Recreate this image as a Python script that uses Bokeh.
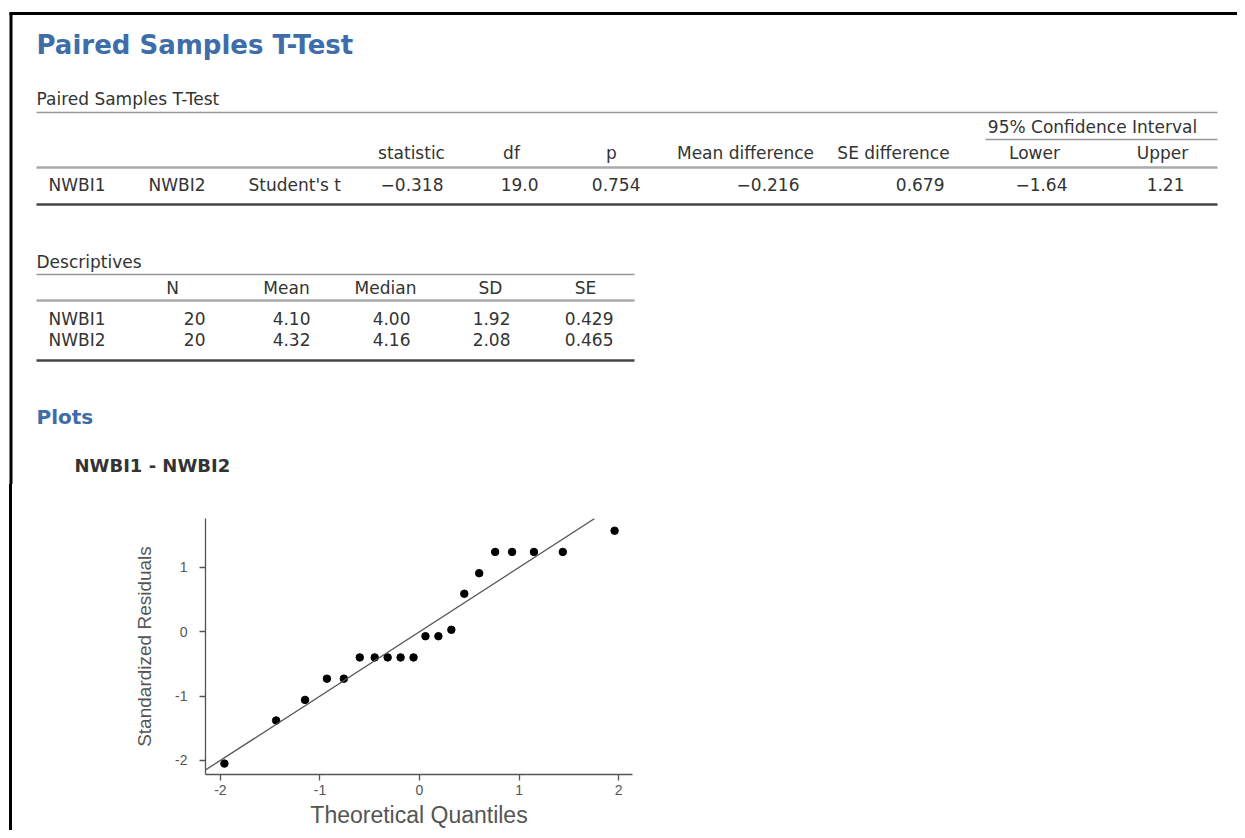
from bokeh.plotting import figure
from bokeh.models import Range1d, FixedTicker, Slope, ColumnDataSource, Div, CustomJSTickFormatter
from bokeh.layouts import column, row
from bokeh.core.properties import value
from bokeh.embed import file_html
from bokeh.resources import INLINE

# ---------------- data ----------------
page_title = "Paired Samples T-Test"
ttest_title = "Paired Samples T-Test"
ttest_headers = ["statistic", "df", "p", "Mean difference", "SE difference", "Lower", "Upper"]
ttest_ci_header = "95% Confidence Interval"
ttest_labels = ["NWBI1", "NWBI2", "Student's t"]
ttest_values = ["\u22120.318", "19.0", "0.754", "\u22120.216", "0.679", "\u22121.64", "1.21"]

desc_title = "Descriptives"
desc_headers = ["N", "Mean", "Median", "SD", "SE"]
desc_rows = ["NWBI1", "NWBI2"]
desc_n = ["20", "20"]
desc_mean = ["4.10", "4.32"]
desc_median = ["4.00", "4.16"]
desc_sd = ["1.92", "2.08"]
desc_se = ["0.429", "0.465"]

plots_title = "Plots"
qq_title = "NWBI1 - NWBI2"
theoretical_q = [-1.96, -1.44, -1.15, -0.93, -0.76, -0.60, -0.45, -0.32, -0.19, -0.06,
                 0.06, 0.19, 0.32, 0.45, 0.60, 0.76, 0.93, 1.15, 1.44, 1.96]
std_resid = [-2.05, -1.38, -1.06, -0.73, -0.73, -0.40, -0.40, -0.40, -0.40, -0.40,
             -0.07, -0.07, 0.03, 0.59, 0.91, 1.24, 1.24, 1.24, 1.24, 1.57]
qq_ticks = [-2, -1, 0, 1, 2]

# ---------------- styles / layout ----------------
FONT = "DejaVu Sans"
AXFONT = "Liberation Sans"
BLUE = "#3e6da9"
TXT = "#333333"
W = 1237
TOP_H = 484
BOT_H = 346
FS = "17px"

def blank(width, height, x0, x1, y0, y1):
    p = figure(width=width, height=height, x_range=Range1d(x0, x1), y_range=Range1d(y1, y0),
               min_border=0, toolbar_location=None, output_backend="svg",
               x_axis_location=None, y_axis_location=None)
    p.xgrid.visible = False
    p.ygrid.visible = False
    p.outline_line_color = None
    p.background_fill_color = "white"
    p.border_fill_color = "white"
    return p

def txt(p, xs, ys, texts, size=FS, align="left", color=TXT, style="normal", font=FONT):
    src = ColumnDataSource(dict(x=xs, y=ys, t=texts))
    p.text(x="x", y="y", text="t", source=src, text_font=value(font), text_font_size=size,
           text_align=align, text_baseline="middle", text_color=color, text_font_style=style)

def hline(p, x0, x1, y, color, w):
    p.segment(x0=[x0], y0=[y], x1=[x1], y1=[y], line_color=color, line_width=w)

top = blank(W, TOP_H, 0, W, 0, TOP_H)
# border
top.segment(x0=[9], y0=[13], x1=[W], y1=[13], line_color="black", line_width=3)
top.segment(x0=[10.5], y0=[12], x1=[10.5], y1=[TOP_H], line_color="black", line_width=3)

txt(top, [36], [44], [page_title], size="26px", color=BLUE, style="bold")
txt(top, [36], [98], [ttest_title])

# t-test table
hline(top, 36, 1217, 112, "#999999", 1.5)
txt(top, [1092], [126], [ttest_ci_header], align="center")
hline(top, 985, 1217, 139, "#999999", 1.5)
tt_head_x = [411, 511, 611, 745, 893, 1034, 1162]
txt(top, tt_head_x, [152] * len(ttest_headers), ttest_headers, align="center")
hline(top, 36, 1217, 167, "#aaaaaa", 2.5)
txt(top, [48, 148, 248], [184] * 3, ttest_labels)
tt_val_x = [443, 538, 640, 799, 944, 1067, 1184]
txt(top, tt_val_x, [184] * len(ttest_values), ttest_values, align="right")
hline(top, 36, 1217, 204, "#444444", 2.5)

# descriptives table
txt(top, [36], [261], [desc_title])
hline(top, 36, 634, 274, "#999999", 1.5)
txt(top, [172, 286, 385, 490, 585], [287] * 5, desc_headers, align="center")
hline(top, 36, 634, 300, "#aaaaaa", 2.5)
row_y = [318, 339]
txt(top, [48, 48], row_y, desc_rows)
for col_vals, xr in zip([desc_n, desc_mean, desc_median, desc_sd, desc_se], [205, 310, 410, 510, 613]):
    txt(top, [xr, xr], row_y, col_vals, align="right")
hline(top, 36, 634, 360, "#444444", 2.5)

txt(top, [36], [416], [plots_title], size="20px", color=BLUE, style="bold")
txt(top, [74], [465], [qq_title], size="18px", style="bold")

# bottom row
LW = 100
left = Div(text="", width=LW - 9, height=BOT_H, margin=(0, 0, 0, 9),
           styles={"border-left": "3px solid black", "box-sizing": "border-box"})

AX = "#555555"
qq = figure(width=(205 - LW) + 427 + 20, height=BOT_H, x_range=Range1d(-2.15, 2.14), y_range=Range1d(-2.22, 1.76),
            min_border_left=205 - LW, min_border_right=20, min_border_top=518 - TOP_H,
            min_border_bottom=BOT_H - (518 - TOP_H) - 256,
            toolbar_location=None, output_backend="svg",
            x_axis_label="Theoretical Quantiles", y_axis_label="Standardized Residuals")
qq.xgrid.visible = False
qq.ygrid.visible = False
qq.outline_line_color = None
for ax in (qq.xaxis[0], qq.yaxis[0]):
    ax.ticker = FixedTicker(ticks=qq_ticks)
    ax.formatter = CustomJSTickFormatter(code="return String(tick);")
    ax.minor_tick_line_color = None
    ax.major_tick_in = 0
    ax.major_tick_out = 6
    ax.major_tick_line_color = AX
    ax.major_tick_line_width = 1.3
    ax.axis_line_color = AX
    ax.axis_line_width = 1.3
    ax.major_label_text_font = AXFONT
    ax.major_label_text_font_size = "14px"
    ax.major_label_text_color = AX
    ax.axis_label_text_font = AXFONT
    ax.axis_label_text_font_style = "normal"
    ax.axis_label_text_color = AX
qq.xaxis[0].axis_label_text_font_size = "23px"
qq.yaxis[0].axis_label_text_font_size = "19px"
qq.xaxis[0].major_label_standoff = 4
qq.xaxis[0].axis_label_standoff = 4
qq.yaxis[0].major_label_standoff = 12
qq.yaxis[0].axis_label_standoff = 17

qq.add_layout(Slope(gradient=1, y_intercept=0, line_color=AX, line_width=1.3))
qq.scatter(theoretical_q, std_resid, size=7.5, color="black")

layout = column(top, row(left, qq))
open("out.html", "w").write(file_html(layout, INLINE))
